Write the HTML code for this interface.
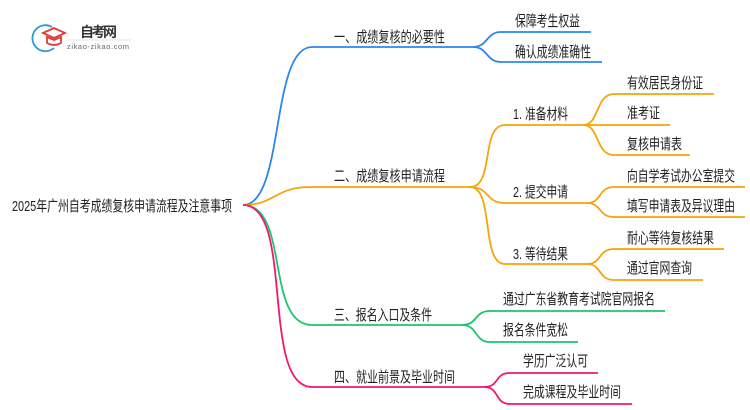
<!DOCTYPE html>
<html><head><meta charset="utf-8"><style>
html,body{margin:0;padding:0;background:#fff;width:750px;height:410px;overflow:hidden}
svg{display:block}
text{font-family:"Liberation Sans","Noto Sans CJK SC",sans-serif;font-size:15px;fill:#222}
path{fill:none;stroke-width:1.8}
</style></head><body>
<svg width="750" height="410" viewBox="0 0 750 410">
<!-- logo -->
<path d="M52 27 A13 13 0 1 0 54 48" stroke="#2b9ad8" stroke-width="5"/>
<path d="M43 33 L54 28 L65 33 L54 38 Z" fill="#e23a3a" stroke="#e23a3a" stroke-width="1"/>
<path d="M47 37 L47 43 Q54 47 61 43 L61 37 L54 40 Z" fill="#e23a3a" stroke="#e23a3a" stroke-width="1"/>
<text x="80" y="37" style="font-size:14px;font-weight:bold;fill:#333" textLength="37">自考网</text>
<line x1="66" y1="40" x2="131" y2="40" stroke="#ddd" stroke-width="0.8"/>
<text x="67" y="49" style="font-size:7.5px;fill:#666" textLength="62">zikao-zikao.com</text>

<text x="12" y="211" textLength="220" lengthAdjust="spacingAndGlyphs">2025年广州自考成绩复核申请流程及注意事项</text>

<g stroke="#2b87f0">
<path d="M243 205 C285 205,270 47,312 47 L473 47"/>
<path d="M473 47 C488 47,486 32,501 32 L591 32"/>
<path d="M473 47 C488 47,486 62,501 62 L602 62"/>
</g>
<g stroke="#f5a50a">
<path d="M243 205 C275 205,275 187,310 187 L470 187"/>
<path d="M470 187 C495 187,480 125,505 125 L583 125"/>
<path d="M470 187 C490 187,485 203,505 203 L587 203"/>
<path d="M470 187 C495 187,480 264,505 264 L587 264"/>
<path d="M583 125 C600 125,595 94,614 94 L714 94"/>
<path d="M583 125 L670 125"/>
<path d="M583 125 C600 125,595 155,614 155 L690 155"/>
<path d="M587 203 C602 203,598 187,614 187 L745 187"/>
<path d="M587 203 C602 203,598 217,614 217 L745 217"/>
<path d="M587 264 C602 264,598 249,614 249 L724 249"/>
<path d="M587 264 C602 264,598 280,614 280 L703 280"/>
</g>
<g stroke="#1fc46e">
<path d="M243 205 C290 205,265 325,312 325 L462 325"/>
<path d="M462 325 C478 325,474 311,490 311 L665 311"/>
<path d="M462 325 C478 325,474 342,490 342 L578 342"/>
</g>
<g stroke="#f0196e">
<path d="M243 205 C295 205,260 387,312 387 L484 387"/>
<path d="M484 387 C500 387,494 373,510 373 L598 373"/>
<path d="M484 387 C500 387,494 404,510 404 L632 404"/>
</g>

<text x="334" y="42" textLength="111" lengthAdjust="spacingAndGlyphs">一、成绩复核的必要性</text>
<text x="515" y="26" textLength="65" lengthAdjust="spacingAndGlyphs">保障考生权益</text>
<text x="515" y="57" textLength="76" lengthAdjust="spacingAndGlyphs">确认成绩准确性</text>

<text x="334" y="181" textLength="111" lengthAdjust="spacingAndGlyphs">二、成绩复核申请流程</text>
<text x="513" y="119" textLength="55" lengthAdjust="spacingAndGlyphs">1. 准备材料</text>
<text x="627" y="88" textLength="76" lengthAdjust="spacingAndGlyphs">有效居民身份证</text>
<text x="627" y="118" textLength="33" lengthAdjust="spacingAndGlyphs">准考证</text>
<text x="627" y="149" textLength="55" lengthAdjust="spacingAndGlyphs">复核申请表</text>
<text x="513" y="197" textLength="55" lengthAdjust="spacingAndGlyphs">2. 提交申请</text>
<text x="627" y="181" textLength="108" lengthAdjust="spacingAndGlyphs">向自学考试办公室提交</text>
<text x="627" y="211" textLength="108" lengthAdjust="spacingAndGlyphs">填写申请表及异议理由</text>
<text x="513" y="259" textLength="55" lengthAdjust="spacingAndGlyphs">3. 等待结果</text>
<text x="627" y="243" textLength="87" lengthAdjust="spacingAndGlyphs">耐心等待复核结果</text>
<text x="627" y="273" textLength="65" lengthAdjust="spacingAndGlyphs">通过官网查询</text>

<text x="334" y="320" textLength="98" lengthAdjust="spacingAndGlyphs">三、报名入口及条件</text>
<text x="503" y="304" textLength="152" lengthAdjust="spacingAndGlyphs">通过广东省教育考试院官网报名</text>
<text x="503" y="335" textLength="65" lengthAdjust="spacingAndGlyphs">报名条件宽松</text>

<text x="334" y="382" textLength="121" lengthAdjust="spacingAndGlyphs">四、就业前景及毕业时间</text>
<text x="523" y="366" textLength="65" lengthAdjust="spacingAndGlyphs">学历广泛认可</text>
<text x="523" y="397" textLength="98" lengthAdjust="spacingAndGlyphs">完成课程及毕业时间</text>
</svg>
</body></html>
